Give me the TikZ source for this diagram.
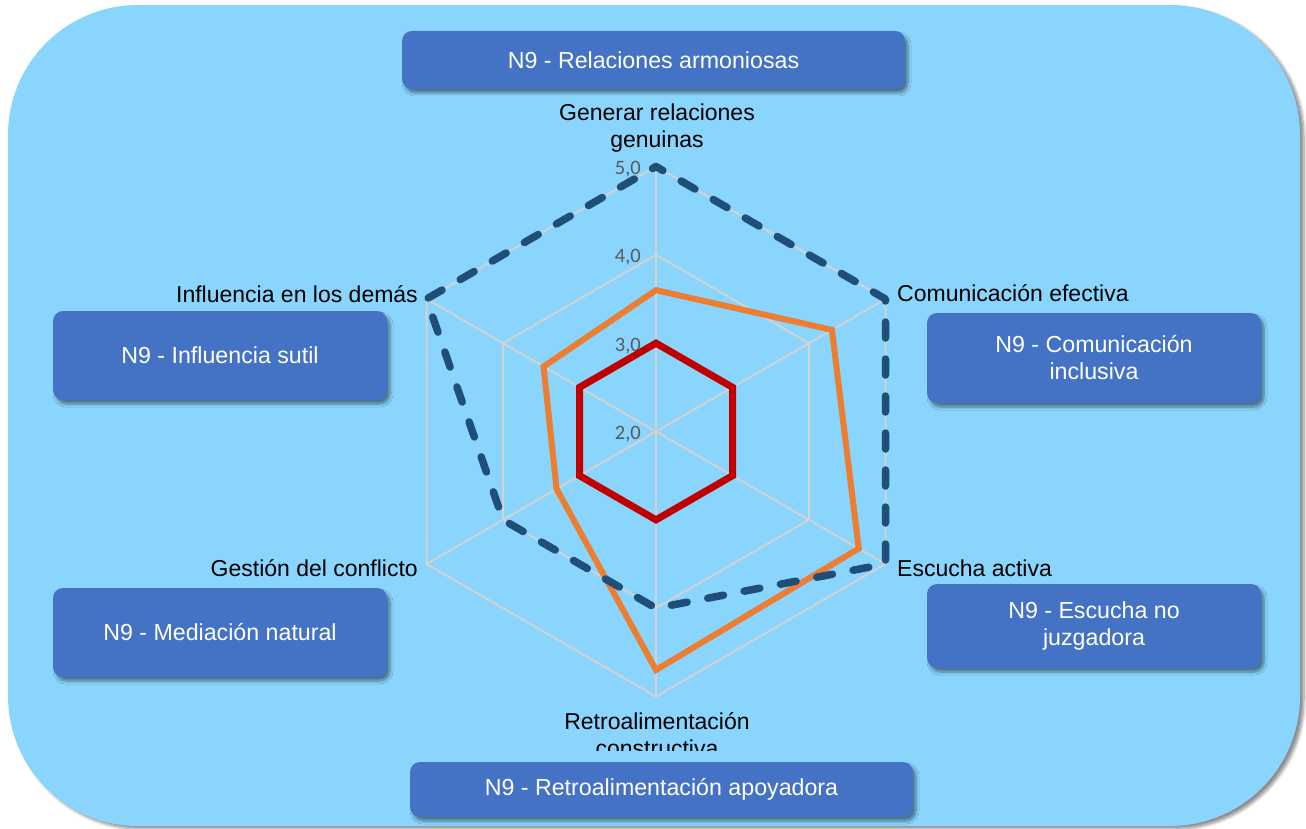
\documentclass[tikz,border=0pt]{standalone}
\usepackage{fontspec}
\setmainfont{Liberation Sans}
\newfontfamily\tickfont{Carlito}
\usetikzlibrary{shadows.blur}

\definecolor{panelbg}{HTML}{8AD5FD}
\definecolor{boxblue}{HTML}{4472C4}
\definecolor{darkdash}{HTML}{1F4E79}
\definecolor{orangeline}{HTML}{ED7D31}
\definecolor{redline}{HTML}{C00000}
\definecolor{gridgray}{HTML}{D2D2D2}
\definecolor{ticktext}{HTML}{595959}

% radius of one scale unit (from 2,0 at the centre to 5,0 at the rim)
\newcommand\rstep{88.33}

\begin{document}
\begin{tikzpicture}[x=1pt,y=1pt,
  levelbox/.style={fill=boxblue, rounded corners=10pt, text=white,
    font=\fontsize{23.2}{27}\selectfont, align=center, inner sep=0pt,
    blur shadow={shadow xshift=3pt, shadow yshift=-4pt, shadow blur steps=6,
      shadow blur radius=3pt, shadow opacity=45}},
  axislabel/.style={text=black, font=\fontsize{23}{27}\selectfont, inner sep=0pt, align=center},
  ticklabel/.style={text=ticktext, font=\tickfont\fontsize{20.5}{24}\selectfont, anchor=east, inner sep=0pt},
  gridline/.style={draw=gridgray, line width=2pt},
  seriesdash/.style={draw=darkdash, line width=7.5pt, line cap=round, line join=round,
    dash pattern=on 16pt off 21pt, dash phase=8pt},
  seriesorange/.style={draw=orangeline, line width=6pt, line join=miter},
  seriesred/.style={draw=redline, line width=7pt, line join=miter},
]
\useasboundingbox (0,0) rectangle (1306,-829);

% panel
\fill[panelbg, rounded corners=130pt,
  blur shadow={shadow xshift=4pt, shadow yshift=-3pt, shadow blur steps=6,
    shadow blur radius=3pt, shadow opacity=45}]
  (8,-5) rectangle (1300,-826);

% radar chart
\begin{scope}[shift={(656,-431.5)}]
  \coordinate (O) at (0,0);
  % rings and spokes
  \foreach \v in {3,4,5}
    \draw[gridline] (90:{(\v-2)*\rstep}) -- (30:{(\v-2)*\rstep}) -- (-30:{(\v-2)*\rstep})
      -- (-90:{(\v-2)*\rstep}) -- (-150:{(\v-2)*\rstep}) -- (150:{(\v-2)*\rstep}) -- cycle;
  \foreach \a in {90,30,-30,-90,-150,150}
    \draw[gridline] (O) -- (\a:{3*\rstep});

  % scale labels
  \node[ticklabel] (t5) at (-15,{3*\rstep-2.5}) {5,0};
  \node[ticklabel] (t4) at (-15,{2*\rstep-2.5}) {4,0};
  \node[ticklabel] (t3) at (-15,{1*\rstep-2.5}) {3,0};
  \node[ticklabel] (t2) at (-15,-2.5) {2,0};

  % series
  \draw[seriesred] (90:{1*\rstep}) -- (30:{1*\rstep}) -- (-30:{1*\rstep})
    -- (-90:{1*\rstep}) -- (-150:{1*\rstep}) -- (150:{1*\rstep}) -- cycle;
  \draw[seriesorange] (90:{1.6*\rstep}) -- (30:{2.3*\rstep}) -- (-30:{2.65*\rstep})
    -- (-90:{2.7*\rstep}) -- (-150:{1.3*\rstep}) -- (150:{1.47*\rstep}) -- cycle;
  \draw[seriesdash] (90:{3*\rstep}) -- (30:{3*\rstep}) -- (-30:{3*\rstep})
    -- (-90:{2*\rstep}) -- (-150:{2*\rstep}) -- (150:{3*\rstep}) -- cycle;
\end{scope}

% axis labels
\node[axislabel] (axgen) at (657,-128) {Generar relaciones\\genuinas};
\node[axislabel, anchor=base west] (axcom) at (897,-301.5) {Comunicación efectiva};
\node[axislabel, anchor=base west] (axesc) at (897,-576) {Escucha activa};
\node[axislabel, anchor=base east] (axinf) at (418,-302) {Influencia en los demás};
\node[axislabel, anchor=base east] (axges) at (418,-576) {Gestión del conflicto};
\begin{scope}
  \clip (0,0) rectangle (1306,-750);
  \node[axislabel] (axret) at (657,-735) {Retroalimentación\\constructiva};
\end{scope}

% level boxes
\node[levelbox, minimum width=503pt, minimum height=58pt] (btop) at (653.5,-60)
  {N9 - Relaciones armoniosas};
\node[levelbox, minimum width=334pt, minimum height=90pt] (bcom) at (1094,-358)
  {N9 - Comunicación\\inclusiva};
\node[levelbox, minimum width=334pt, minimum height=84pt] (besc) at (1094,-626)
  {N9 - Escucha no\\juzgadora};
\node[levelbox, minimum width=503pt, minimum height=55pt] (bret) at (661.5,-789.5)
  {N9 - Retroalimentación apoyadora};
\node[levelbox, minimum width=334pt, minimum height=89pt] (bges) at (220,-632.5)
  {N9 - Mediación natural};
\node[levelbox, minimum width=334pt, minimum height=89pt] (binf) at (220,-355.5)
  {N9 - Influencia sutil};
\end{tikzpicture}
\end{document}
